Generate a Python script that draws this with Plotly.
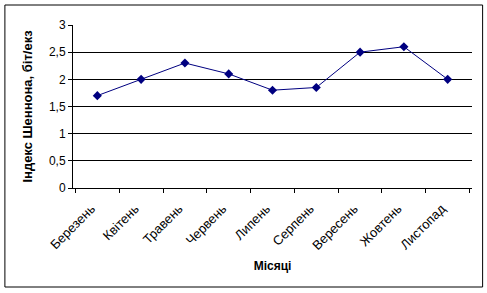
import plotly.graph_objects as go

months = ["Березень", "Квітень", "Травень", "Червень", "Липень",
          "Серпень", "Вересень", "Жовтень", "Листопад"]
shannon = [1.7, 2.0, 2.3, 2.1, 1.8, 1.85, 2.5, 2.6, 2.0]
y_ticks = [0, 0.5, 1, 1.5, 2, 2.5, 3]

W, H = 487, 293
fig = go.Figure()
fig.add_trace(go.Scatter(
    x=months, y=shannon, mode="lines+markers",
    line=dict(color="#000080", width=1),
    marker=dict(symbol="diamond", size=7, color="#000080"),
    showlegend=False,
))

font = dict(family="Liberation Sans, Arial, sans-serif", color="black")
fig.update_layout(
    width=W, height=H,
    margin=dict(l=73, r=15, t=25, b=105),
    paper_bgcolor="white", plot_bgcolor="white",
    separators=", ",
    font=dict(**font, size=11),
    xaxis=dict(
        type="category", showline=True, linecolor="black", linewidth=1,
        ticks="outside", ticklen=4, tickcolor="black", tickson="boundaries",
        tickangle=-45, tickfont=dict(**font, size=13),
        ticklabelstandoff=7, ticklabelshift=-6,
        showgrid=False, zeroline=False,
        title=dict(text="<b>Місяці</b>", font=dict(**font, size=12), standoff=9),
    ),
    yaxis=dict(
        range=[0, 3], tickvals=y_ticks, showline=True, linecolor="black", linewidth=1,
        ticks="outside", ticklen=4, tickcolor="black",
        tickfont=dict(**font, size=12),
        showgrid=True, gridcolor="black", gridwidth=1, zeroline=False,
        title=dict(text="<b>Індекс Шеннона, біт/екз</b>", font=dict(**font, size=13), standoff=13),
    ),
    shapes=[dict(type="rect", xref="paper", yref="paper",
                 x0=-68/398.4, x1=(482-73)/398.4,
                 y0=-(287-188)/163, y1=(188-5)/163,
                 line=dict(color="black", width=1), fillcolor="rgba(0,0,0,0)",
                 layer="below")],
)
fig.write_html("out.html")
